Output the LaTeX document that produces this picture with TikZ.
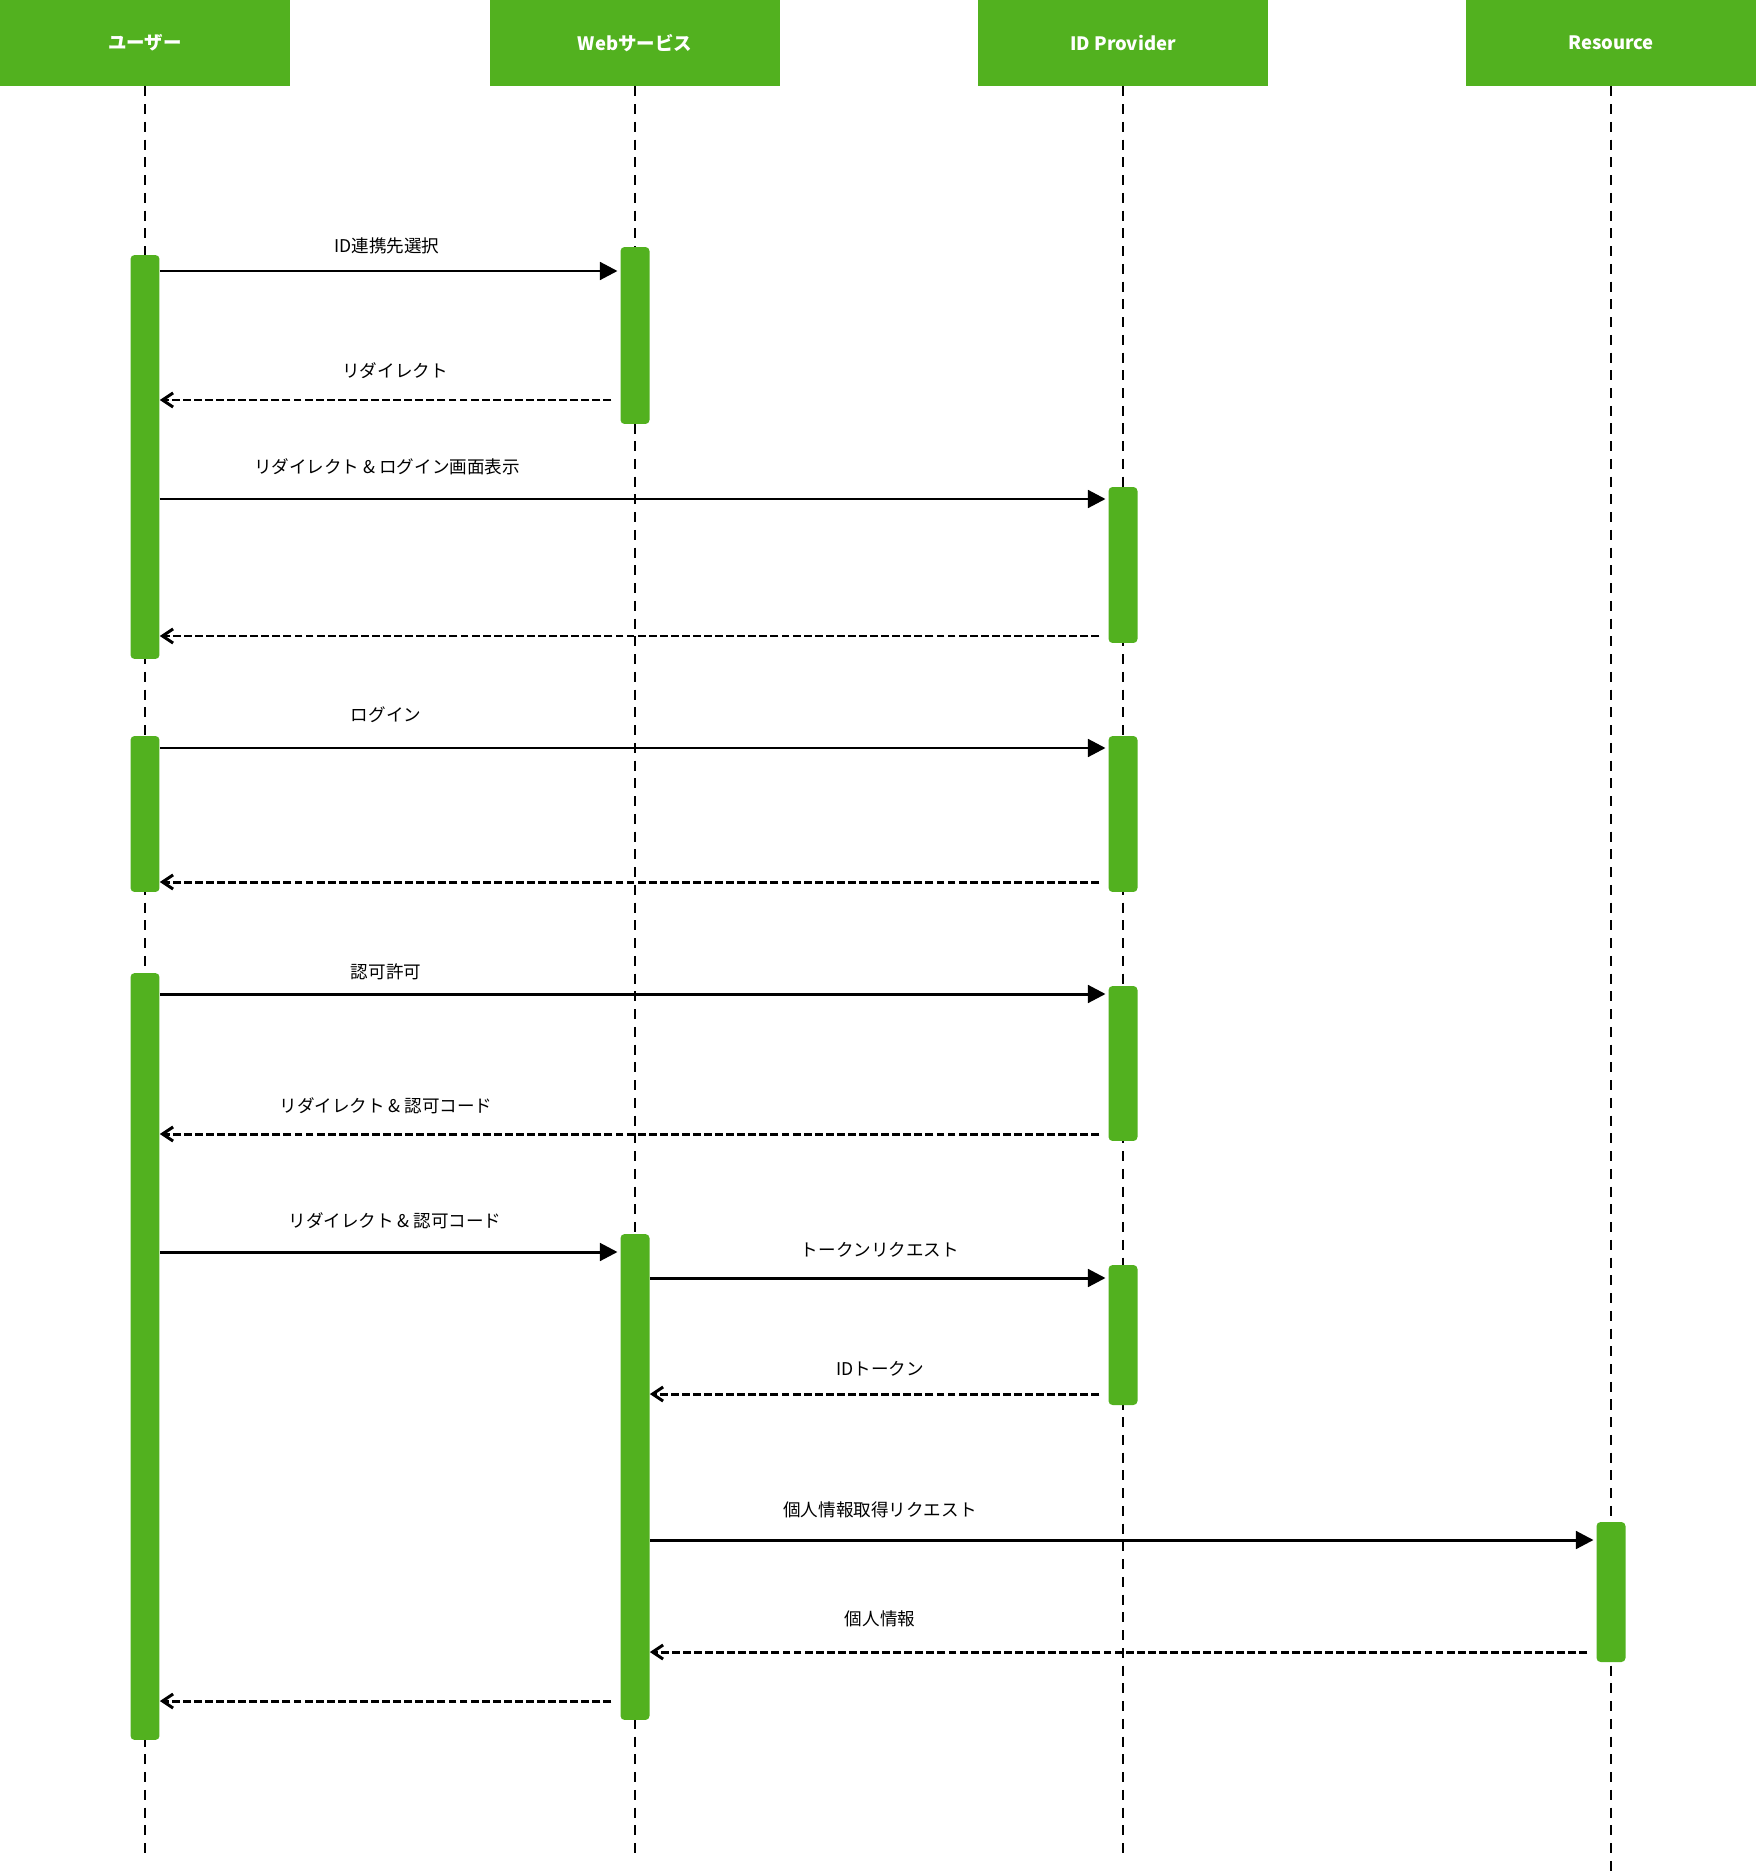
\documentclass[tikz,border=0pt]{standalone}
\usepackage{fontspec}
\setmainfont{Noto Sans CJK JP}
\usetikzlibrary{arrows.meta}
\definecolor{seqgreen}{HTML}{52B11F}
\tikzset{
  x=0.02cm, y=-0.02cm, % one unit per pixel of the layout, y grows downwards
  head/.style={fill=seqgreen, text=white, font=\bfseries\fontsize{10.5}{12}\selectfont,
    minimum width=5.8cm, minimum height=1.72cm, inner sep=0pt}, % participant boxes
  bar/.style={fill=seqgreen, rounded corners=2.3pt, minimum width=0.58cm, inner sep=0pt}, % activation bars
  lifeline/.style={line width=1.5pt, dash pattern=on 5.7pt off 4.4pt}, % dashed lifelines
  msg/.style={line width=1.7pt, -{Triangle[length=10pt,width=10pt]}, shorten >=1.5pt}, % calls
  reply/.style={line width=1.7pt, dash pattern=on 4.5pt off 1.8pt,
    -{Straight Barb[length=6pt,width=8pt]}, shorten <=5pt}, % returns
  msgtext/.style={font=\fontsize{10}{12}\selectfont, inner sep=1pt}, % text over the messages
}

\begin{document}
\begin{tikzpicture}
  \useasboundingbox (0,0) rectangle (1757,1871);

  \node[head] (user) at (145,43) {ユーザー};
  \node[head] (web) at (635,43) {Webサービス};
  \node[head] (idp) at (1123,43) {ID Provider};
  \node[head] (res) at (1611,43) {Resource};

  \coordinate (userEnd) at (145,1858);
  \coordinate (webEnd) at (635,1858);
  \coordinate (idpEnd) at (1123,1858);
  \coordinate (resEnd) at (1611,1871);

  \draw[lifeline] (user) -- (userEnd);
  \draw[lifeline] (web) -- (webEnd);
  \draw[lifeline] (idp) -- (idpEnd);
  \draw[lifeline] (res) -- (resEnd);

  \node[bar, minimum height=8.08cm] (u1) at (145,457) {};
  \node[bar, minimum height=3.54cm] (w1) at (635,335.5) {};
  \node[bar, minimum height=3.12cm] (i1) at (1123,565) {};
  \node[bar, minimum height=3.12cm] (u2) at (145,814) {};
  \node[bar, minimum height=3.12cm] (i2) at (1123,814) {};
  \node[bar, minimum height=15.34cm] (u3) at (145,1356.5) {};
  \node[bar, minimum height=3.10cm] (i3) at (1123,1063.5) {};
  \node[bar, minimum height=9.72cm] (w2) at (635,1477) {};
  \node[bar, minimum height=2.80cm] (i4) at (1123,1335) {};
  \node[bar, minimum height=2.80cm] (r1) at (1611,1592) {};

  \draw[msg] (u1.east |- 0,271) -- (w1.west |- 0,271);
  \node[msgtext] (t1) at (387,246) {ID連携先選択};
  \draw[reply] (w1.west |- 0,400) -- (u1.east |- 0,400);
  \node[msgtext] (t2) at (395,371) {リダイレクト};
  \draw[msg] (u1.east |- 0,499) -- (i1.west |- 0,499);
  \node[msgtext] (t3) at (387,467) {リダイレクト \& ログイン画面表示};
  \draw[reply] (i1.west |- 0,636) -- (u1.east |- 0,636);

  \draw[msg] (u2.east |- 0,748) -- (i2.west |- 0,748);
  \node[msgtext] (t5) at (386,715) {ログイン};
  \draw[reply] (i2.west |- 0,882) -- (u2.east |- 0,882);

  \draw[msg] (u3.east |- 0,994) -- (i3.west |- 0,994);
  \node[msgtext] (t7) at (386,972) {認可許可};
  \draw[reply] (i3.west |- 0,1134) -- (u3.east |- 0,1134);
  \node[msgtext] (t8) at (386,1106) {リダイレクト \& 認可コード};

  \draw[msg] (u3.east |- 0,1252) -- (w2.west |- 0,1252);
  \node[msgtext] (t9) at (395,1221) {リダイレクト \& 認可コード};
  \draw[msg] (w2.east |- 0,1278) -- (i4.west |- 0,1278);
  \node[msgtext] (t10) at (880,1250) {トークンリクエスト};
  \draw[reply] (i4.west |- 0,1394) -- (w2.east |- 0,1394);
  \node[msgtext] (t11) at (880,1369) {IDトークン};

  \draw[msg] (w2.east |- 0,1540) -- (r1.west |- 0,1540);
  \node[msgtext] (t12) at (880,1510) {個人情報取得リクエスト};
  \draw[reply] (r1.west |- 0,1652) -- (w2.east |- 0,1652);
  \node[msgtext] (t13) at (880,1619) {個人情報};
  \draw[reply] (w2.west |- 0,1701) -- (u3.east |- 0,1701);
\end{tikzpicture}
\end{document}
